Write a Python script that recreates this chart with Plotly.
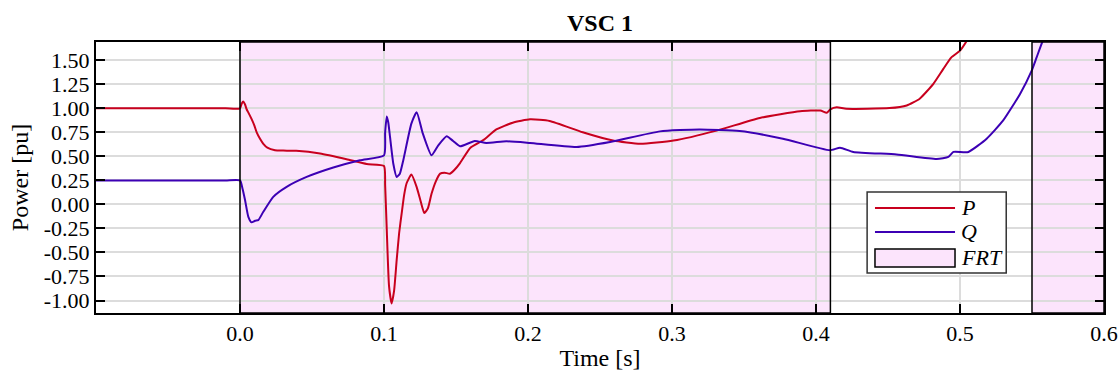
import plotly.graph_objects as go

# Active power P [pu]
t_p = [-0.1, -0.05, -0.01, 0.0, 0.0012, 0.0023, 0.0035, 0.0046, 0.006, 0.008, 0.010, 0.0116,
       0.014, 0.0162, 0.019, 0.0243, 0.030, 0.039, 0.0556, 0.074, 0.088, 0.1,
       0.1008, 0.102, 0.1035, 0.1053, 0.107, 0.1088, 0.1105, 0.1123, 0.1140, 0.1157,
       0.119, 0.1227, 0.1255, 0.128, 0.1305, 0.133, 0.136, 0.139, 0.142, 0.1458,
       0.149, 0.1528, 0.16, 0.169, 0.178, 0.1894, 0.2014, 0.215, 0.238, 0.259,
       0.278, 0.301, 0.331, 0.361, 0.389, 0.403, 0.4074, 0.41, 0.4144, 0.421,
       0.451, 0.463, 0.472, 0.4815, 0.4884, 0.494, 0.5, 0.5046, 0.51]
p_vals = [1.0, 1.0, 1.0, 1.0, 1.05, 1.07, 1.04, 0.99, 0.95, 0.89, 0.82, 0.75,
          0.68, 0.63, 0.59, 0.563, 0.56, 0.558, 0.53, 0.47, 0.42, 0.40,
          0.2, -0.3, -0.85, -1.03, -0.9, -0.58, -0.3, -0.09, 0.10, 0.22,
          0.31, 0.18, 0.03, -0.09, -0.04, 0.11, 0.24, 0.32, 0.33, 0.32,
          0.36, 0.43, 0.59, 0.67, 0.78, 0.85, 0.885, 0.868, 0.75, 0.664,
          0.63, 0.664, 0.768, 0.90, 0.97, 0.977, 0.953, 0.99, 1.01, 0.995,
          1.002, 1.03, 1.10, 1.255, 1.41, 1.53, 1.60, 1.70, 1.85]

# Reactive power Q [pu]
t_q = [-0.1, -0.05, -0.01, 0.0, 0.0018, 0.0035, 0.0058, 0.008, 0.0105, 0.0127, 0.0162, 0.0231,
       0.0324, 0.0463, 0.0648, 0.0833, 0.1, 0.1008, 0.1019, 0.103, 0.1042, 0.1065,
       0.1088, 0.111, 0.1134, 0.119, 0.1227, 0.127, 0.133, 0.1377, 0.1435, 0.148,
       0.1528, 0.163, 0.171, 0.185, 0.2014, 0.2338, 0.257, 0.2917, 0.319, 0.347,
       0.377, 0.4097, 0.4167, 0.4259, 0.456, 0.4838, 0.4919, 0.4954, 0.5058, 0.5185,
       0.53, 0.5417, 0.5498, 0.5532, 0.5574, 0.562]
q_vals = [0.25, 0.25, 0.25, 0.25, 0.16, 0.045, -0.13, -0.187, -0.17, -0.163, -0.077, 0.079,
          0.183, 0.286, 0.384, 0.46, 0.511, 0.75, 0.916, 0.85, 0.70, 0.42,
          0.286, 0.32, 0.46, 0.84, 0.96, 0.736, 0.511, 0.615, 0.709, 0.66,
          0.605, 0.66, 0.639, 0.657, 0.64, 0.598, 0.65, 0.76, 0.78, 0.763,
          0.684, 0.563, 0.59, 0.546, 0.52, 0.473, 0.494, 0.546, 0.546, 0.684,
          0.874, 1.15, 1.393, 1.53, 1.70, 1.85]

# Fault-ride-through intervals [s]
frt_start = [0.0, 0.55]
frt_end = [0.41, 0.6]

x_ticks = [0.0, 0.1, 0.2, 0.3, 0.4, 0.5, 0.6]
x_ticktext = ["0.0", "0.1", "0.2", "0.3", "0.4", "0.5", "0.6"]
y_ticks = [-1.0, -0.75, -0.5, -0.25, 0.0, 0.25, 0.5, 0.75, 1.0, 1.25, 1.5]
y_ticktext = ["-1.00", "-0.75", "-0.50", "-0.25", "0.00", "0.25", "0.50",
              "0.75", "1.00", "1.25", "1.50"]

legend_names = ["P", "Q", "FRT"]

FONT = "Liberation Serif"
P_COLOR = "#c8001e"
Q_COLOR = "#3c00b4"
FRT_FILL = "#fce4fc"

fig = go.Figure()
fig.add_trace(go.Scatter(x=t_p, y=p_vals, mode="lines", name=legend_names[0],
                         line=dict(color=P_COLOR, width=2, shape="spline", smoothing=0.5)))
fig.add_trace(go.Scatter(x=t_q, y=q_vals, mode="lines", name=legend_names[1],
                         line=dict(color=Q_COLOR, width=2, shape="spline", smoothing=0.5)))

# FRT bands: fill under the grid, black outline on top
for a, b in zip(frt_start, frt_end):
    fig.add_shape(type="rect", xref="x", yref="y domain", x0=a, x1=b, y0=0, y1=1,
                  fillcolor=FRT_FILL, line=dict(width=0), layer="below")
    fig.add_shape(type="rect", xref="x", yref="y domain", x0=a, x1=b, y0=0, y1=1,
                  fillcolor="rgba(0,0,0,0)", line=dict(color="black", width=1.5),
                  layer="above")

# Legend box drawn in paper coordinates
lx0, lx1 = 0.765, 0.903
ly0, ly1 = 0.148, 0.4465
sx0, sx1 = 0.7728, 0.8522
text_x = 0.856
row_y = [0.3875, 0.2989, 0.2030]
fig.add_shape(type="rect", xref="paper", yref="paper", x0=lx0, x1=lx1, y0=ly0, y1=ly1,
              fillcolor="white", line=dict(color="#333333", width=1.5), layer="above")
for yy, col in zip(row_y[:2], [P_COLOR, Q_COLOR]):
    fig.add_shape(type="line", xref="paper", yref="paper", x0=sx0, x1=sx1, y0=yy, y1=yy,
                  line=dict(color=col, width=2), layer="above")
fig.add_shape(type="rect", xref="paper", yref="paper", x0=sx0, x1=sx1,
              y0=row_y[2] - 0.033, y1=row_y[2] + 0.033,
              fillcolor=FRT_FILL, line=dict(color="black", width=1.5), layer="above")
for yy, name in zip(row_y, legend_names):
    fig.add_annotation(xref="paper", yref="paper", x=text_x, y=yy, text=f"<i>{name}</i>",
                       showarrow=False, xanchor="left", yanchor="middle",
                       font=dict(family=FONT, size=22, color="black"))

axis_common = dict(showline=True, linecolor="black", linewidth=2, mirror="ticks",
                   ticks="inside", ticklen=9, tickwidth=2, tickcolor="black",
                   showgrid=True, gridcolor="#dcdcdc", gridwidth=1.5,
                   zeroline=False, automargin=False,
                   tickfont=dict(family=FONT, size=22, color="black"))

fig.update_xaxes(range=[-0.1, 0.6], tickvals=x_ticks, ticktext=x_ticktext,
                 title=dict(text="Time [s]", font=dict(family=FONT, size=24, color="black"),
                            standoff=4),
                 **axis_common)
fig.update_yaxes(range=[-1.13, 1.69], tickvals=y_ticks, ticktext=y_ticktext,
                 title=dict(text="Power [pu]", font=dict(family=FONT, size=24, color="black"),
                            standoff=8),
                 **axis_common)

fig.update_layout(
    width=1120, height=374,
    margin=dict(l=96, r=16, t=42, b=61),
    paper_bgcolor="white", plot_bgcolor="white",
    font=dict(family=FONT, size=22, color="black"),
    title=dict(text="VSC 1", x=0.5, xanchor="center", y=0.94, yanchor="middle",
               xref="paper", font=dict(family=FONT, size=24, color="black", weight="bold")),
    showlegend=False,
)

fig.write_html("out.html")
